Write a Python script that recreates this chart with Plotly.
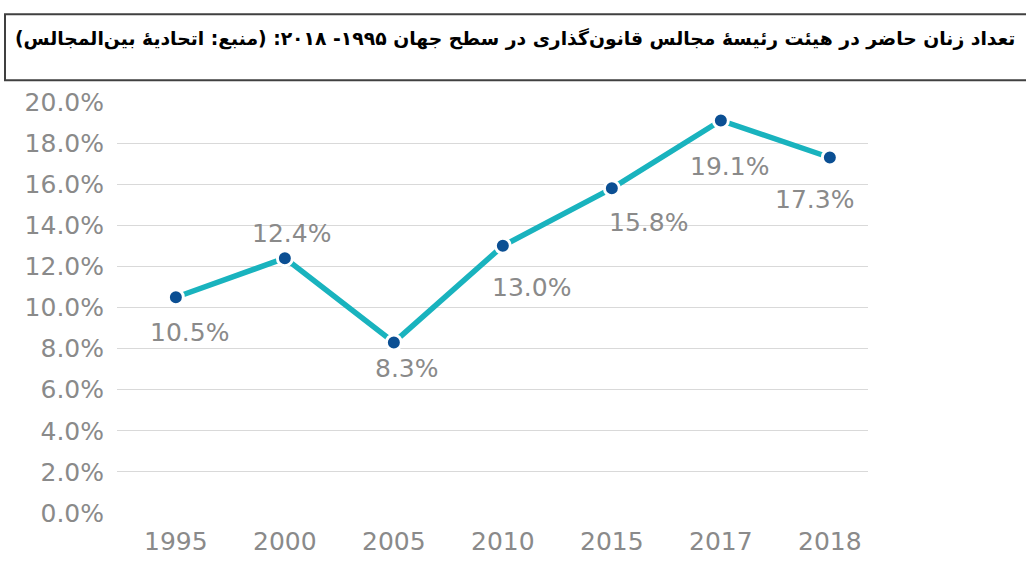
import plotly.graph_objects as go

years = ["1995", "2000", "2005", "2010", "2015", "2017", "2018"]
shares = [10.5, 12.4, 8.3, 13.0, 15.8, 19.1, 17.3]
labels = ["10.5%", "12.4%", "8.3%", "13.0%", "15.8%", "19.1%", "17.3%"]
# label offsets in pixels (style)
label_dx = [14, 7, 13, 29, 37, 9, -15]
label_dy = [-35, 25, -26, -42, -34, -46, -42]

title = "تعداد زنان حاضر در هیئت رئیسهٔ مجالس قانون‌گذاری در سطح جهان ۱۹۹۵- ۲۰۱۸: (منبع: اتحادیهٔ بین‌المجالس)"

W, H = 1026, 568
L, R, T, B = 117, 868, 101.7, 531
pw, ph = R - L, B - T

def px(x):
    return (x - L) / pw

def py(y):
    return (B - y) / ph

fig = go.Figure()
fig.add_trace(go.Scatter(
    x=years, y=shares, mode="lines+markers",
    line=dict(color="#19b3be", width=5.5),
    marker=dict(color="#0b4f93", size=15, line=dict(color="white", width=3)),
    hoverinfo="skip",
))

for i, (y, t, dx, dy) in enumerate(zip(shares, labels, label_dx, label_dy)):
    fig.add_annotation(x=i, y=y, xref="x", yref="y", text=t, showarrow=False,
                       xshift=dx, yshift=dy,
                       font=dict(family="DejaVu Sans", size=25, color="#8a8a8a"))

fig.add_shape(type="rect", xref="paper", yref="paper",
              x0=px(5), x1=px(1030), y0=py(79), y1=py(10),
              line=dict(color="#404040", width=2), fillcolor="rgba(0,0,0,0)")
fig.add_annotation(xref="paper", yref="paper", x=px(1017), y=py(35),
                   xanchor="right", yanchor="middle", showarrow=False,
                   text="<b>" + title + "</b>",
                   font=dict(family="DejaVu Sans", size=18.8, color="#000000"))

fig.update_layout(
    width=W, height=H,
    margin=dict(l=L, r=W - R, t=T, b=H - B, pad=0),
    paper_bgcolor="white", plot_bgcolor="white",
    showlegend=False,
    xaxis=dict(type="category", range=[-0.54, 6.35], showgrid=False, zeroline=False,
               showline=False, ticks="", ticklabelstandoff=11,
               tickfont=dict(family="DejaVu Sans", size=25, color="#8a8a8a")),
    yaxis=dict(range=[0, 20], dtick=2, tickformat=".1f", ticksuffix="%",
               showgrid=True, gridcolor="#d9d9d9", gridwidth=1, zeroline=False,
               showline=False, ticks="", ticklabelstandoff=12,
               tickfont=dict(family="DejaVu Sans", size=25, color="#8a8a8a")),
)

fig.write_html(
    "out.html",
    config={"displayModeBar": False},
    post_script=(
        "document.documentElement.style.margin='0';"
        "document.documentElement.style.overflow='hidden';"
        "document.body.style.margin='0';"
        "document.body.style.overflow='hidden';"
    ),
)
